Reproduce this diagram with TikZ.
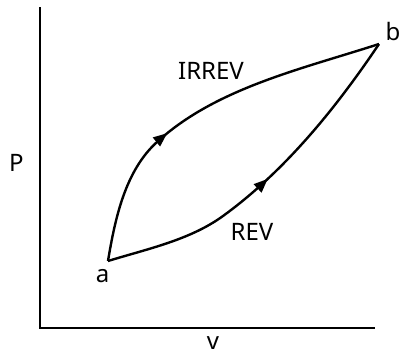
\documentclass[tikz,border=0pt]{standalone}
\usepackage{fontspec}
\setmainfont{Noto Sans}
\usetikzlibrary{arrows.meta,decorations.markings}
\begin{document}
\begin{tikzpicture}[x=1bp,y=-1bp,
  axisline/.style={line width=2.8bp,line cap=rect},
  pathline/.style={line width=2.4bp},
  lbl/.style={inner sep=0pt,font=\fontsize{24bp}{28bp}\selectfont},
  midarrow/.style={postaction={decorate},decoration={markings,
    mark=at position #1 with {\arrow{Triangle[length=14bp,width=11bp]}}}}]
\useasboundingbox (0,0) rectangle (399,358);
\coordinate (ytop) at (40,8);
\coordinate (origin) at (40,328);
\coordinate (xend) at (374,328);
\coordinate (a) at (108,261);
\coordinate (b) at (379,44);
\coordinate (m) at (157,142);
\coordinate (n) at (223,216);
\draw[axisline] (ytop) -- (origin) -- (xend);
\draw[pathline,midarrow=0.385] (a) .. controls (115,219) and (125,171) .. (m)
  .. controls (216,88) and (302,69) .. (b);
\draw[pathline,midarrow=0.51] (a) .. controls (147,249) and (190,240) .. (n)
  .. controls (285,171) and (336,108) .. (b);
\node[lbl] (irrev) at (211,70.5) {IRREV};
\node[lbl] (rev) at (252,231.5) {REV};
\node[lbl] (pl) at (16.5,163) {P};
\node[lbl] (vl) at (213,343.5) {v};
\node[lbl] (al) at (102.5,276.5) {a};
\node[lbl] (bl) at (393,31) {b};
\end{tikzpicture}
\end{document}
